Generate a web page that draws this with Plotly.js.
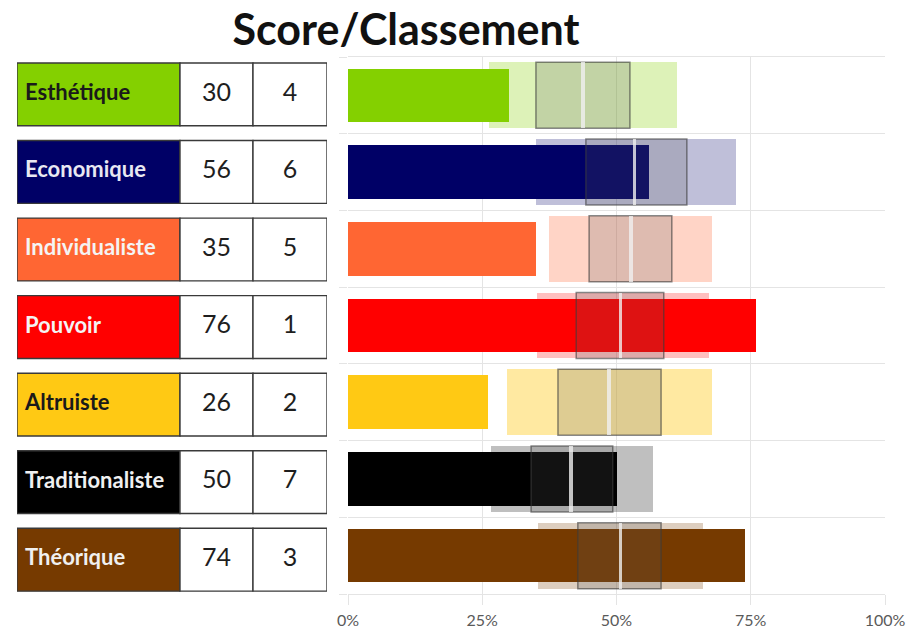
<!DOCTYPE html>
<html>
<head>
<meta charset="utf-8">
<script src="https://cdn.plot.ly/plotly-3.0.1.min.js"></script>
<style>html,body{margin:0;padding:0;background:#fff;}#chart{width:909px;height:631px;}</style>
</head>
<body>
<div id="chart"></div>
<script>
// ---- data ----
const categories = ["Esthétique", "Economique", "Individualiste", "Pouvoir", "Altruiste", "Traditionaliste", "Théorique"];
const scores     = [30, 56, 35, 76, 26, 50, 74];
const ranks      = [4, 6, 5, 1, 2, 7, 3];
const rangeLow   = [26.3, 35.0, 37.4, 35.2, 29.6, 26.6, 35.4];
const rangeHigh  = [61.3, 72.3, 67.8, 67.2, 67.8, 56.8, 66.1];
const q1         = [35.0, 44.3, 44.9, 42.5, 39.1, 34.1, 42.8];
const q3         = [52.5, 63.1, 60.3, 58.8, 58.3, 49.3, 58.3];
const medians    = [43.8, 53.4, 52.7, 50.7, 48.6, 41.5, 50.7];
const xTickVals  = [0, 25, 50, 75, 100];
const xTickText  = ["0%", "25%", "50%", "75%", "100%"];

// ---- styles ----
const colors      = ["#84D000", "#000066", "#FF6633", "#FF0000", "#FFC914", "#000000", "#763A00"];
const lightColors = ["rgba(132,208,0,0.28)", "rgba(0,0,102,0.25)", "rgba(255,102,51,0.28)", "rgba(255,0,0,0.25)", "rgba(255,201,20,0.40)", "rgba(0,0,0,0.25)", "rgba(118,58,0,0.25)"];
const labelTextColors = ["#1a1a1a", "#e8e8f2", "#f4f4f4", "#f4f4f4", "#1a1a1a", "#f0f0f0", "#f0f0f0"];
const FONT = "Lato, 'Open Sans', sans-serif";

const idx = categories.map((_, i) => i);
const diff = (a, b) => a.map((v, i) => v - b[i]);

// table column geometry (in table-axis units = px)
const COL_LABEL = 163, COL_SCORE = 73, COL_RANK = 74, LABEL_PAD = 8;
const CELL_W = 0.81;       // table cell height in row units
const BOX_W = 0.86, BAR_W = 0.70, MED_HALF = 0.32;

const traces = [];
// light range boxes
traces.push({type: "bar", orientation: "h", y: idx, base: rangeLow, x: diff(rangeHigh, rangeLow),
  width: BOX_W, marker: {color: lightColors, line: {width: 0}}, hoverinfo: "skip", showlegend: false});
// score bars
traces.push({type: "bar", orientation: "h", y: idx, base: idx.map(() => 0), x: scores,
  width: BAR_W, marker: {color: colors, line: {width: 0}}, hoverinfo: "skip", showlegend: false});
// interquartile boxes
traces.push({type: "bar", orientation: "h", y: idx, base: q1, x: diff(q3, q1),
  width: BOX_W, marker: {color: "rgba(90,90,90,0.20)", line: {width: 1.5, color: "rgba(60,60,60,0.6)"}},
  hoverinfo: "skip", showlegend: false});
// median line
traces.push({type: "bar", orientation: "h", y: idx, base: medians.map(m => m - MED_HALF), x: medians.map(() => 2 * MED_HALF),
  width: BOX_W, marker: {color: "rgba(240,240,240,0.8)", line: {width: 0}}, hoverinfo: "skip", showlegend: false});

// ---- table ----
const cellLine = {width: 1.4, color: "#3a3a3a"};
traces.push({type: "bar", orientation: "h", xaxis: "x2", yaxis: "y2", y: idx, base: idx.map(() => 0),
  x: idx.map(() => COL_LABEL), width: CELL_W, marker: {color: colors, line: cellLine}, hoverinfo: "skip", showlegend: false});
traces.push({type: "bar", orientation: "h", xaxis: "x2", yaxis: "y2", y: idx, base: idx.map(() => COL_LABEL),
  x: idx.map(() => COL_SCORE), width: CELL_W, marker: {color: "#ffffff", line: cellLine}, hoverinfo: "skip", showlegend: false});
traces.push({type: "bar", orientation: "h", xaxis: "x2", yaxis: "y2", y: idx, base: idx.map(() => COL_LABEL + COL_SCORE),
  x: idx.map(() => COL_RANK), width: CELL_W, marker: {color: "#ffffff", line: cellLine}, hoverinfo: "skip", showlegend: false});
traces.push({type: "scatter", mode: "text", xaxis: "x2", yaxis: "y2", y: idx, x: idx.map(() => LABEL_PAD),
  text: categories, textposition: "middle right",
  textfont: {family: FONT, size: 22, weight: 700, color: labelTextColors}, hoverinfo: "skip", showlegend: false});
traces.push({type: "scatter", mode: "text", xaxis: "x2", yaxis: "y2", y: idx, x: idx.map(() => COL_LABEL + COL_SCORE / 2),
  text: scores.map(String), textposition: "middle center",
  textfont: {family: FONT, size: 25, color: "#1e1e1e"}, hoverinfo: "skip", showlegend: false});
traces.push({type: "scatter", mode: "text", xaxis: "x2", yaxis: "y2", y: idx, x: idx.map(() => COL_LABEL + COL_SCORE + COL_RANK / 2),
  text: ranks.map(String), textposition: "middle center",
  textfont: {family: FONT, size: 25, color: "#1e1e1e"}, hoverinfo: "skip", showlegend: false});

const yDomain = [1 - 594 / 631, 1 - 57 / 631];
const tableDomain = [1 - 598.5 / 631, 1 - 55.6 / 631];
const yRange = [categories.length - 0.5, -0.5];
const rowBounds = idx.concat([categories.length]).map(i => i - 0.5);

const layout = {
  width: 909, height: 631,
  margin: {l: 0, r: 0, t: 0, b: 0},
  paper_bgcolor: "#ffffff", plot_bgcolor: "rgba(0,0,0,0)",
  barmode: "overlay", bargap: 0,
  showlegend: false,
  title: {text: "Score/Classement", x: 406 / 909, xanchor: "center", y: 1 - 30 / 631, yanchor: "middle",
    font: {family: FONT, size: 43, weight: 700, color: "#111111"}},
  xaxis: {domain: [348 / 909, 885 / 909], range: [0, 100], tickvals: xTickVals, ticktext: xTickText,
    showgrid: true, gridcolor: "#e4e4e4", gridwidth: 1, zeroline: false,
    showline: true, linecolor: "#e4e4e4", linewidth: 1, mirror: true,
    ticks: "outside", ticklen: 10, tickcolor: "#e4e4e4", ticklabelstandoff: 2,
    tickfont: {family: FONT, size: 16, color: "#5a5a5a"}, fixedrange: true, anchor: "y"},
  yaxis: {domain: yDomain, range: yRange, tickvals: rowBounds, showticklabels: false,
    showgrid: true, gridcolor: "#e4e4e4", gridwidth: 1, zeroline: false, showline: false,
    ticks: "outside", ticklen: 8, tickcolor: "#e4e4e4", fixedrange: true, anchor: "x"},
  xaxis2: {domain: [17 / 909, 327 / 909], range: [0, COL_LABEL + COL_SCORE + COL_RANK], visible: false,
    showgrid: false, zeroline: false, anchor: "y2", fixedrange: true},
  yaxis2: {domain: tableDomain, range: yRange, visible: false, showgrid: false, zeroline: false, anchor: "x2", fixedrange: true}
};

Plotly.newPlot("chart", traces, layout, {displayModeBar: false, staticPlot: true});
</script>
</body>
</html>
